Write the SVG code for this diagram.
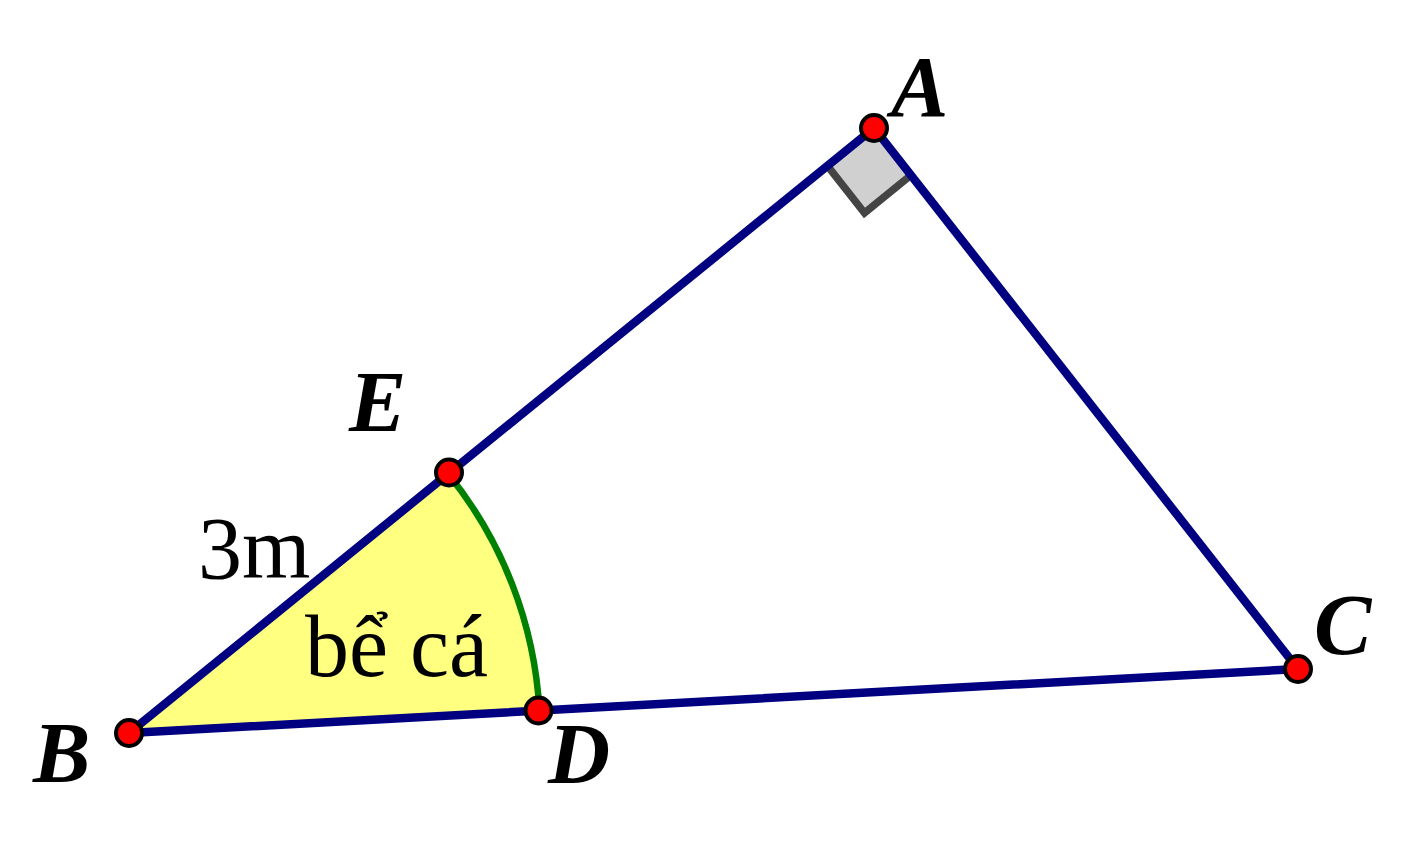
<svg xmlns="http://www.w3.org/2000/svg" width="1419" height="848" viewBox="0 0 1419 848">
<style>
.seg{stroke:#000080;stroke-width:8.5;fill:none;stroke-linecap:round}
.pt{fill:#ff0000;stroke:#000;stroke-width:4}
.lbl{font-family:"Liberation Serif",serif;font-style:italic;font-weight:bold;font-size:86px;fill:#000}
.txt{font-family:"Liberation Serif",serif;font-size:88px;fill:#000}
</style>
<rect width="1419" height="848" fill="#fff"/>
<g id="sector">
<path d="M129,733 L447.9,473.6 A411,411 0 0 1 539.4,710.5 Z" fill="#ffff80" stroke="none"/>
</g>
<g id="right-angle">
<path d="M874,128 L827.5,165.9 L864.5,213 L911,175.2 Z" fill="#d0d0d0" stroke="none"/>
<path d="M827.5,165.9 L864.5,213 L911,175.2" fill="none" stroke="#444" stroke-width="7.5"/>
</g>
<g id="connectors">
<line class="seg" x1="129" y1="733" x2="874" y2="128"/>
<line class="seg" x1="874" y1="128" x2="1298" y2="669"/>
<line class="seg" x1="129" y1="733" x2="1298" y2="669"/>
<path d="M447.9,473.6 A411,411 0 0 1 539.4,710.5" fill="none" stroke="#008000" stroke-width="6.5"/>
</g>
<g id="A"><circle class="pt" cx="874" cy="128" r="13"/><text class="lbl" x="891" y="116">A</text></g>
<g id="B"><circle class="pt" cx="129" cy="733" r="13"/><text class="lbl" x="33" y="782">B</text></g>
<g id="C"><circle class="pt" cx="1298" cy="669" r="13"/><text class="lbl" x="1314" y="654">C</text></g>
<g id="D"><circle class="pt" cx="538.5" cy="710.5" r="13"/><text class="lbl" x="548" y="783">D</text></g>
<g id="E"><circle class="pt" cx="449" cy="472.5" r="13"/><text class="lbl" x="349" y="431">E</text></g>
<text class="txt" x="198" y="578">3m</text>
<text class="txt" x="305" y="676">bể cá</text>
</svg>
